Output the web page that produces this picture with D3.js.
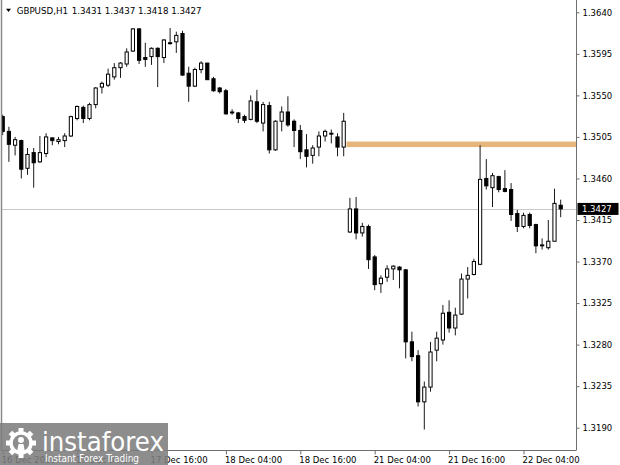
<!DOCTYPE html>
<html><head><meta charset="utf-8">
<script src="https://cdn.jsdelivr.net/npm/d3@7"></script>
<style>body{margin:0;background:#fff}svg{display:block}text{font-family:"DejaVu Sans",sans-serif}</style>
</head><body>
<svg id="c" width="620" height="465"></svg>
<script>
const symbolTitle = "GBPUSD,H1";
const times = [
"16 Dec 16:00","16 Dec 17:00","16 Dec 18:00","16 Dec 19:00","16 Dec 20:00","16 Dec 21:00","16 Dec 22:00","16 Dec 23:00",
"17 Dec 00:00","17 Dec 01:00","17 Dec 02:00","17 Dec 03:00","17 Dec 04:00","17 Dec 05:00","17 Dec 06:00","17 Dec 07:00",
"17 Dec 08:00","17 Dec 09:00","17 Dec 10:00","17 Dec 11:00","17 Dec 12:00","17 Dec 13:00","17 Dec 14:00","17 Dec 15:00",
"17 Dec 16:00","17 Dec 17:00","17 Dec 18:00","17 Dec 19:00","17 Dec 20:00","17 Dec 21:00","17 Dec 22:00","17 Dec 23:00",
"18 Dec 00:00","18 Dec 01:00","18 Dec 02:00","18 Dec 03:00","18 Dec 04:00","18 Dec 05:00","18 Dec 06:00","18 Dec 07:00",
"18 Dec 08:00","18 Dec 09:00","18 Dec 10:00","18 Dec 11:00","18 Dec 12:00","18 Dec 13:00","18 Dec 14:00","18 Dec 15:00",
"18 Dec 16:00","18 Dec 17:00","18 Dec 18:00","18 Dec 19:00","18 Dec 20:00","18 Dec 21:00","18 Dec 22:00","18 Dec 23:00",
"21 Dec 00:00","21 Dec 01:00","21 Dec 02:00","21 Dec 03:00","21 Dec 04:00","21 Dec 05:00","21 Dec 06:00","21 Dec 07:00",
"21 Dec 08:00","21 Dec 09:00","21 Dec 10:00","21 Dec 11:00","21 Dec 12:00","21 Dec 13:00","21 Dec 14:00","21 Dec 15:00",
"21 Dec 16:00","21 Dec 17:00","21 Dec 18:00","21 Dec 19:00","21 Dec 20:00","21 Dec 21:00","21 Dec 22:00","21 Dec 23:00",
"22 Dec 00:00","22 Dec 01:00","22 Dec 02:00","22 Dec 03:00","22 Dec 04:00","22 Dec 05:00","22 Dec 06:00","22 Dec 07:00",
"22 Dec 08:00","22 Dec 09:00","22 Dec 10:00"];
const open = [1.3527,1.3511,1.3496,1.3501,1.3471,1.3488,1.3478,1.3487,1.3504,1.3500,1.3501,1.3506,1.3525,1.3537,1.3525,1.3540,1.3559,1.3561,1.3570,1.3580,
1.3584,1.3598,1.3622,1.3591,1.3592,1.3601,1.3591,1.3607,1.3608,1.3617,1.3574,1.3560,1.3578,1.3585,1.3568,1.3558,1.3555,1.3532,1.3531,1.3527,
1.3524,1.3543,1.3520,1.3539,1.3491,1.3522,1.3532,1.3522,1.3512,1.3491,1.3485,1.3494,1.3506,1.3509,1.3505,1.3494,
1.3402,1.3427,1.3401,1.3408,1.3375,1.3346,1.3353,1.3362,1.3364,1.3361,1.3283,1.3268,1.3218,1.3234,1.3274,1.3285,1.3315,1.3298,1.3313,1.3351,
1.3356,1.3367,1.3460,1.3450,1.3462,1.3449,1.3448,1.3422,1.3408,1.3421,1.3410,1.3388,1.3385,1.3392,1.3431];
const high = [1.3529,1.3516,1.3505,1.3502,1.3493,1.3493,1.3506,1.3509,1.3504,1.3505,1.3509,1.3528,1.3539,1.3539,1.3542,1.3559,1.3565,1.3579,1.3585,1.3586,
1.3601,1.3623,1.3623,1.3607,1.3602,1.3602,1.3611,1.3623,1.3619,1.3620,1.3581,1.3580,1.3587,1.3585,1.3570,1.3559,1.3557,1.3535,1.3532,1.3529,
1.3550,1.3556,1.3543,1.3543,1.3523,1.3538,1.3549,1.3524,1.3518,1.3508,1.3496,1.3511,1.3513,1.3513,1.3509,1.3531,
1.3439,1.3440,1.3412,1.3410,1.3377,1.3355,1.3366,1.3366,1.3365,1.3362,1.3294,1.3274,1.3240,1.3283,1.3294,1.3323,1.3328,1.3320,1.3357,1.3364,
1.3373,1.3496,1.3481,1.3466,1.3463,1.3469,1.3455,1.3426,1.3423,1.3423,1.3411,1.3395,1.3415,1.3449,1.3437];
const low = [1.3507,1.3478,1.3485,1.3460,1.3464,1.3450,1.3477,1.3483,1.3496,1.3497,1.3494,1.3505,1.3523,1.3520,1.3523,1.3536,1.3552,1.3559,1.3567,1.3569,
1.3581,1.3597,1.3584,1.3581,1.3583,1.3559,1.3585,1.3605,1.3596,1.3571,1.3543,1.3559,1.3574,1.3567,1.3554,1.3552,1.3529,1.3529,1.3520,1.3520,
1.3523,1.3520,1.3511,1.3487,1.3490,1.3511,1.3516,1.3494,1.3481,1.3472,1.3476,1.3484,1.3500,1.3498,1.3484,1.3484,
1.3401,1.3394,1.3397,1.3362,1.3339,1.3336,1.3348,1.3350,1.3341,1.3265,1.3262,1.3213,1.3188,1.3229,1.3262,1.3280,1.3293,1.3290,1.3312,1.3330,
1.3355,1.3366,1.3448,1.3429,1.3445,1.3445,1.3414,1.3402,1.3406,1.3406,1.3379,1.3383,1.3383,1.3392,1.3418];
const close = [1.3511,1.3497,1.3502,1.3470,1.3486,1.3477,1.3488,1.3505,1.3501,1.3502,1.3506,1.3527,1.3538,1.3525,1.3540,1.3558,1.3563,1.3573,1.3580,1.3585,
1.3597,1.3622,1.3588,1.3589,1.3601,1.3592,1.3610,1.3606,1.3615,1.3572,1.3560,1.3578,1.3585,1.3567,1.3555,1.3554,1.3530,1.3531,1.3525,1.3523,
1.3544,1.3522,1.3540,1.3491,1.3522,1.3532,1.3518,1.3512,1.3489,1.3484,1.3493,1.3506,1.3511,1.3508,1.3494,1.3522,
1.3427,1.3401,1.3408,1.3372,1.3345,1.3352,1.3362,1.3365,1.3361,1.3283,1.3267,1.3218,1.3234,1.3272,1.3287,1.3314,1.3298,1.3312,1.3351,1.3355,
1.3370,1.3459,1.3452,1.3463,1.3448,1.3446,1.3421,1.3408,1.3420,1.3409,1.3387,1.3387,1.3392,1.3433,1.3427];
const yTicks = ["1.3640","1.3595","1.3550","1.3505","1.3460","1.3415","1.3370","1.3325","1.3280","1.3235","1.3190"];
const xTickTimes = ["16 Dec 16:00","17 Dec 04:00","17 Dec 16:00","18 Dec 04:00","18 Dec 16:00","21 Dec 04:00","21 Dec 16:00","22 Dec 04:00"];
const xTickLabels = ["16 Dec 2020","17 Dec 04:00","17 Dec 16:00","18 Dec 04:00","18 Dec 16:00","21 Dec 04:00","21 Dec 16:00","22 Dec 04:00"];
const zoneTop = 1.3500, zoneBottom = 1.3494, zoneStart = "18 Dec 23:00";
const lastPrice = 1.3427;

const svg = d3.select("#c");
svg.append("rect").attr("width",620).attr("height",465).attr("fill","#fff");
const x = d3.scalePoint().domain(times).range([2.7, 560.7]);
const y = d3.scaleLinear().domain([1.3190, 1.3640]).range([427.7, 12.3]);
const PL = 1.5, PR = 576, PB = 450;

svg.append("clipPath").attr("id","clip").append("rect").attr("x",PL).attr("y",0).attr("width",PR-PL).attr("height",PB);
const plot = svg.append("g").attr("clip-path","url(#clip)");

// zone
plot.append("rect").attr("x", x(zoneStart)+2.8).attr("y", y(zoneTop))
  .attr("width", PR - x(zoneStart) - 2.8).attr("height", y(zoneBottom)-y(zoneTop)).attr("fill","#e6b57c");
// price line
plot.append("line").attr("x1",PL).attr("x2",PR).attr("y1",Math.round(y(lastPrice))+0.5).attr("y2",Math.round(y(lastPrice))+0.5)
  .attr("stroke","#c8c8c8").attr("stroke-width",1);

const data = times.map((t,i)=>({t,o:open[i],h:high[i],l:low[i],c:close[i]}));
const cg = plot.selectAll("g.candle").data(data).join("g").attr("class","candle");
cg.append("line").attr("x1",d=>x(d.t)).attr("x2",d=>x(d.t)).attr("y1",d=>y(d.h)).attr("y2",d=>y(d.l))
  .attr("stroke","#1a1a1a").attr("stroke-width",1);
cg.append("rect").attr("x",d=>x(d.t)-1.6).attr("width",3.2)
  .attr("y",d=>y(Math.max(d.o,d.c))).attr("height",d=>Math.max(0.8, Math.abs(y(d.o)-y(d.c))))
  .attr("fill",d=>d.c>d.o?"#fff":"#000").attr("stroke","#000").attr("stroke-width",1);

// frame
svg.append("line").attr("x1",PL).attr("x2",PL).attr("y1",0).attr("y2",PB).attr("stroke","#8a8a8a").attr("stroke-width",1.5);
svg.append("line").attr("x1",PR+0.5).attr("x2",PR+0.5).attr("y1",0).attr("y2",PB).attr("stroke","#6e6e6e");
svg.append("line").attr("x1",PL).attr("x2",PR+0.5).attr("y1",PB+0.5).attr("y2",PB+0.5).attr("stroke","#6e6e6e");

// right axis
const ya = svg.append("g").attr("transform",`translate(${PR+0.5},0)`)
  .call(d3.axisRight(y).tickValues(yTicks.map(Number)).tickFormat(d3.format(".4f")).tickSize(3).tickPadding(3));
ya.select(".domain").remove();
ya.selectAll(".tick line").attr("stroke","#6e6e6e");
ya.selectAll(".tick text").attr("font-family","DejaVu Sans").attr("font-size","8.5px").attr("fill","#000");

// bottom axis
const xa = svg.append("g").attr("transform",`translate(0,${PB+0.5})`)
  .call(d3.axisBottom(x).tickValues(xTickTimes).tickFormat((d,i)=>xTickLabels[i]).tickSize(4));
xa.select(".domain").remove();
xa.selectAll(".tick line").attr("stroke","#6e6e6e");
xa.selectAll(".tick text").attr("font-family","DejaVu Sans").attr("font-size","8.5px").attr("fill","#000")
  .attr("text-anchor","start").attr("x",-1.5).attr("y",12.5).attr("dy",0);

// last price tag
const ly = y(lastPrice);
svg.append("rect").attr("x",PR+1.5).attr("y",ly-6).attr("width",41).attr("height",12).attr("fill","#000");
svg.append("text").attr("x",PR+6).attr("y",ly+3).attr("font-size","8.5px").attr("fill","#fff").text(d3.format(".4f")(lastPrice));

// title
svg.append("path").attr("d","M6,8.7 L11,8.7 L8.5,12 Z").attr("fill","#000");
const last = data[data.length-1];
svg.append("text").attr("x",16.7).attr("y",13.5).attr("font-size","8.7px").attr("fill","#000").text(symbolTitle);
svg.append("text").attr("x",71.7).attr("y",13.5).attr("font-size","8.7px").attr("fill","#000")
  .text([last.o,last.h,last.l,last.c].map(d3.format(".4f")).join(" "));

// logo
const lg = svg.append("g");
lg.append("rect").attr("x",0).attr("y",423).attr("width",168).attr("height",42).attr("fill","#7d7d7d").attr("opacity",0.88);
const gx = 21, gy = 443;
d3.range(8).forEach(k=>{
  lg.append("rect").attr("x",gx-2.5).attr("y",gy-15).attr("width",5).attr("height",6).attr("fill","#fff")
    .attr("transform",`rotate(${k*45},${gx},${gy})`);
});
lg.append("circle").attr("cx",gx).attr("cy",gy).attr("r",10).attr("fill","none").attr("stroke","#fff").attr("stroke-width",3.5);
lg.append("circle").attr("cx",gx).attr("cy",gy-3).attr("r",3).attr("fill","#fff");
lg.append("path").attr("d",`M${gx-4},${gy+9} L${gx-2.5},${gy+1} L${gx+2.5},${gy+1} L${gx+4},${gy+9} Z`).attr("fill","#fff");
lg.append("text").attr("x",42).attr("y",451).attr("font-family","Open Sans").attr("font-size","27px").attr("fill","#fff")
  .attr("textLength",122).attr("lengthAdjust","spacingAndGlyphs").text("instaforex");
lg.append("text").attr("x",45).attr("y",462).attr("font-family","Open Sans").attr("font-size","10.5px").attr("fill","#fff")
  .attr("textLength",94).attr("lengthAdjust","spacingAndGlyphs").text("Instant Forex Trading");
</script>
</body></html>
